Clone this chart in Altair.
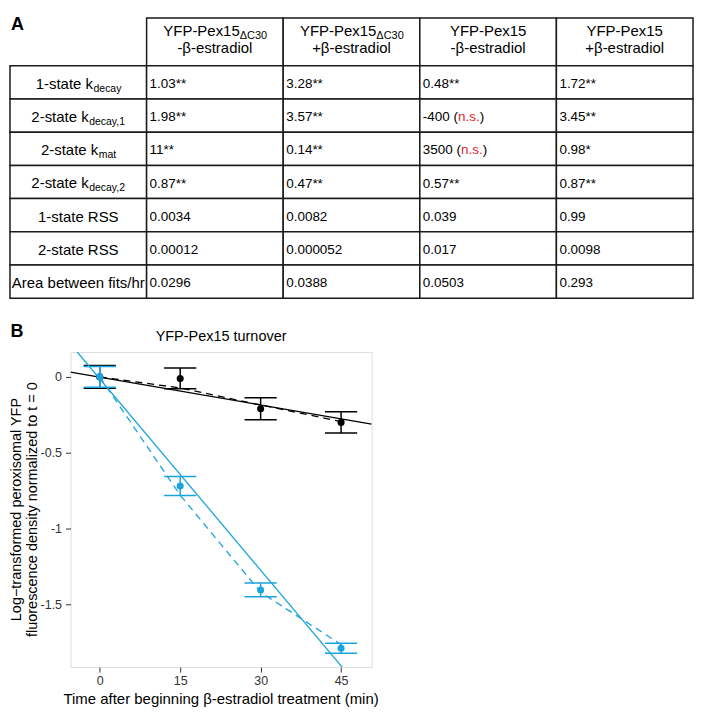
import altair as alt
import pandas as pd

FONT = "Liberation Sans"

# ---------------- Panel A: table contents ----------------
header_main = ["YFP-Pex15", "YFP-Pex15", "YFP-Pex15", "YFP-Pex15"]
header_sub = ["ΔC30", "ΔC30", "", ""]
header_line2 = ["-β-estradiol", "+β-estradiol", "-β-estradiol", "+β-estradiol"]

row_main = ["1-state k", "2-state k", "2-state k", "2-state k",
            "1-state RSS", "2-state RSS", "Area between fits/hr"]
row_sub = ["decay", "decay,1", "mat", "decay,2", "", "", ""]

col1_values = ["1.03**", "1.98**", "11**", "0.87**", "0.0034", "0.00012", "0.0296"]
col2_values = ["3.28**", "3.57**", "0.14**", "0.47**", "0.0082", "0.000052", "0.0388"]
col3_values = ["0.48**", "-400 (n.s.)", "3500 (n.s.)", "0.57**", "0.039", "0.017", "0.0503"]
col4_values = ["1.72**", "3.45**", "0.98*", "0.87**", "0.99", "0.0098", "0.293"]

# ---------------- Panel B: data ----------------
times = [0, 15, 30, 45]
minus_mean = [0.0, -0.01, -0.21, -0.30]
minus_err = [0.075, 0.068, 0.073, 0.07]
plus_mean = [0.0, -0.72, -1.405, -1.79]
plus_err = [0.068, 0.063, 0.045, 0.033]

fit1_minus_t = [-5.45, 50.7]
fit1_minus_y = [0.031, -0.311]
fit1_plus_t = [-4.2, 45.2]
fit1_plus_y = [0.164, -1.914]
fit2_minus_y = [0.0, -0.073, -0.185, -0.295]
fit2_plus_y = [0.0, -0.78, -1.42, -1.765]

panel_title = "YFP-Pex15 turnover"
x_title = "Time after beginning β-estradiol treatment (min)"
y_title = ["Log\u2212transformed peroxisomal YFP", "fluorescence density normalized to t = 0"]

BLUE = "#1BA3DD"
RED = "#E0242B"

# ---------------- helpers ----------------
ARIAL = {" ": 278, "!": 278, "(": 333, ")": 333, "*": 389, "+": 584, ",": 278,
         "-": 333, ".": 278, "/": 278, "=": 584, "A": 667, "B": 667, "C": 722,
         "D": 722, "E": 667, "F": 611, "K": 667, "P": 667, "R": 722, "S": 667,
         "Y": 667, "a": 556, "b": 556, "c": 500, "d": 556, "e": 556, "f": 278,
         "g": 556, "h": 556, "i": 222, "k": 500, "l": 222, "m": 833, "n": 556,
         "o": 556, "r": 333, "s": 500, "t": 278, "u": 556, "w": 722, "x": 500,
         "y": 500, "z": 500, "Δ": 612, "β": 575}


def tw(s, fs):
    return sum(ARIAL.get(ch, 556) for ch in s) * fs / 1000.0


# ---------------- page layout (page pixel frame) ----------------
PAGE_W, PAGE_H = 704, 720
PX0, PY0 = 70.7, 352.0          # panel origin on the page
PW, PH = 302, 316               # panel size

X0, COLW = 10.0, 137.0
HT, HB, TB = 17.0, 65.0, 298.0
ROWH = (TB - HB) / 7
FS_HEAD, FS_SUB, FS_ROW, FS_VAL, FS_RSUB = 15, 11, 15, 13.5, 10.5

rects = []
for c in range(1, 5):
    rects.append(dict(x=X0 + c * COLW, x2=X0 + (c + 1) * COLW, y=HT, y2=HB))
for r in range(7):
    for c in range(5):
        rects.append(dict(x=X0 + c * COLW, x2=X0 + (c + 1) * COLW,
                          y=HB + r * ROWH, y2=HB + (r + 1) * ROWH))

left_t, right_t, center_t = [], [], []
Y1, Y2 = 30.5, 47.0
for i in range(4):
    cx = X0 + (i + 1) * COLW + COLW / 2
    m, s = header_main[i], header_sub[i]
    if s:
        w1, w2 = tw(m, FS_HEAD), tw(s, FS_SUB)
        anchor = cx - (w1 + w2) / 2 + w1
        right_t.append(dict(x=anchor, y=Y1, text=m, fs=FS_HEAD, col="black"))
        left_t.append(dict(x=anchor, y=Y1 + 4.5, text=s, fs=FS_SUB, col="black"))
    else:
        center_t.append(dict(x=cx, y=Y1, text=m, fs=FS_HEAD, col="black"))
    center_t.append(dict(x=cx, y=Y2, text=header_line2[i], fs=FS_HEAD, col="black"))

for r in range(7):
    cy = HB + (r + 0.5) * ROWH + 1.5
    cx = X0 + COLW / 2
    m, s = row_main[r], row_sub[r]
    if s:
        w1, w2 = tw(m, FS_ROW), tw(s, FS_RSUB)
        anchor = cx - (w1 + w2) / 2 + w1
        right_t.append(dict(x=anchor, y=cy, text=m, fs=FS_ROW, col="black"))
        left_t.append(dict(x=anchor + 0.5, y=cy + 5, text=s, fs=FS_RSUB, col="black"))
    else:
        center_t.append(dict(x=cx, y=cy, text=m, fs=FS_ROW, col="black"))

for c, vals in enumerate([col1_values, col2_values, col3_values, col4_values]):
    x = X0 + (c + 1) * COLW + 3
    for r, v in enumerate(vals):
        cy = HB + (r + 0.5) * ROWH + 1.5
        if "(n.s.)" in v:
            pre = v.split("n.s.")[0]
            left_t.append(dict(x=x, y=cy, text=pre, fs=FS_VAL, col="black"))
            x2 = x + tw(pre, FS_VAL)
            left_t.append(dict(x=x2, y=cy, text="n.s.", fs=FS_VAL, col=RED))
            x3 = x2 + tw("n.s.", FS_VAL)
            left_t.append(dict(x=x3, y=cy, text=")", fs=FS_VAL, col="black"))
        else:
            left_t.append(dict(x=x, y=cy, text=v, fs=FS_VAL, col="black"))

# page-frame scales (page pixels -> offsets from the panel origin)
txs = alt.Scale(domain=[0, PAGE_W], range=[-PX0, PAGE_W - PX0], nice=False, zero=False)
tys = alt.Scale(domain=[0, PAGE_H], range=[-PY0, PAGE_H - PY0], nice=False, zero=False)


def tenc():
    return dict(x=alt.X("x:Q", scale=txs, axis=None),
                y=alt.Y("y:Q", scale=tys, axis=None))


cells = alt.Chart(pd.DataFrame(rects)).mark_rect(
    fill="white", stroke="#1a1a1a", strokeWidth=1.5
).encode(x2="x2:Q", y2="y2:Q", **tenc())


def text_layer(rows, align, **kw):
    return alt.Chart(pd.DataFrame(rows)).mark_text(
        align=align, baseline="middle", font=FONT, **kw
    ).encode(text="text:N", size=alt.Size("fs:Q", scale=None),
             color=alt.Color("col:N", scale=None), **tenc())


bold_t = [dict(x=17.5, y=24.0, text="A", fs=18, col="black"),
          dict(x=17.0, y=332.0, text="B", fs=18, col="black")]
titles_t = [dict(x=PX0 + PW / 2, y=337.0, text=panel_title, fs=14.5, col="black"),
            dict(x=PX0 + PW / 2, y=700.0, text=x_title, fs=15, col="black")]
ytitle_t = [dict(x=16.9, y=PY0 + PH / 2, text=y_title[0], fs=14.5, col="black"),
            dict(x=32.8, y=PY0 + PH / 2, text=y_title[1], fs=14.5, col="black")]

table_group = alt.layer(
    cells,
    text_layer(left_t, "left"),
    text_layer(right_t, "right"),
    text_layer(center_t, "center"),
    text_layer(bold_t, "center", fontWeight="bold"),
    text_layer(titles_t, "center"),
    text_layer(ytitle_t, "center", angle=270),
)

# ---------------- plot ----------------
xs = alt.Scale(domain=[-5.45, 50.7], nice=False, zero=False)
ys = alt.Scale(domain=[-1.914, 0.164], nice=False, zero=False)
xax = alt.Axis(values=times, title=None, grid=False, domain=False, tickSize=5,
               tickColor="#333333", labelColor="#333333", labelFontSize=12.5,
               labelPadding=2.5, labelFont=FONT)
yax = alt.Axis(values=[0, -0.5, -1, -1.5], title=None, grid=False, domain=False,
               tickSize=5, tickColor="#333333", labelColor="#333333",
               labelFontSize=12.5, labelPadding=4, labelExpr="'' + datum.value",
               labelFont=FONT)


def X(f):
    return alt.X(f, scale=xs, axis=xax)


def Y(f):
    return alt.Y(f, scale=ys, axis=yax)


def series_frame(mean, err):
    return pd.DataFrame(dict(t=times, m=mean,
                             lo=[a - b for a, b in zip(mean, err)],
                             hi=[a + b for a, b in zip(mean, err)])).assign(
        cl=lambda d: d.t - 3, cr=lambda d: d.t + 3)


def series_layers(mean, err, fit1_t, fit1_y, fit2_y, color):
    d = series_frame(mean, err)
    base = alt.Chart(d)
    stem = base.mark_rule(color=color, strokeWidth=1.5).encode(x=X("t:Q"), y=Y("lo:Q"), y2="hi:Q")
    cap_hi = base.mark_rule(color=color, strokeWidth=1.5).encode(x=X("cl:Q"), x2="cr:Q", y=Y("hi:Q"))
    cap_lo = base.mark_rule(color=color, strokeWidth=1.5).encode(x=X("cl:Q"), x2="cr:Q", y=Y("lo:Q"))
    l1 = alt.Chart(pd.DataFrame(dict(t=fit1_t, y=fit1_y))).mark_line(
        color=color, strokeWidth=1.3, clip=True).encode(x=X("t:Q"), y=Y("y:Q"))
    l2 = alt.Chart(pd.DataFrame(dict(t=times, y=fit2_y))).mark_line(
        color=color, strokeWidth=1.3, strokeDash=[7, 5], clip=True).encode(x=X("t:Q"), y=Y("y:Q"))
    pts = base.mark_circle(color=color, size=50, opacity=1).encode(x=X("t:Q"), y=Y("m:Q"))
    return [stem, cap_hi, cap_lo, l1, l2, pts]


plot_group = alt.layer(
    *series_layers(minus_mean, minus_err, fit1_minus_t, fit1_minus_y, fit2_minus_y, "black"),
    *series_layers(plus_mean, plus_err, fit1_plus_t, fit1_plus_y, fit2_plus_y, BLUE),
)

SVG_W, SVG_H = 690, 704
chart = alt.layer(plot_group, table_group).resolve_scale(
    x="independent", y="independent"
).properties(
    width=PW, height=PH,
    autosize=alt.AutoSizeParams(type="none"),
    padding={"left": PX0 - 8, "top": PY0 - 8,
             "right": SVG_W - (PX0 - 8) - PW, "bottom": SVG_H - (PY0 - 8) - PH},
    background="white",
).configure_view(stroke="#333333", strokeWidth=1).configure(font=FONT)

chart.save("out.html", embed_options={"renderer": "svg", "actions": False})
